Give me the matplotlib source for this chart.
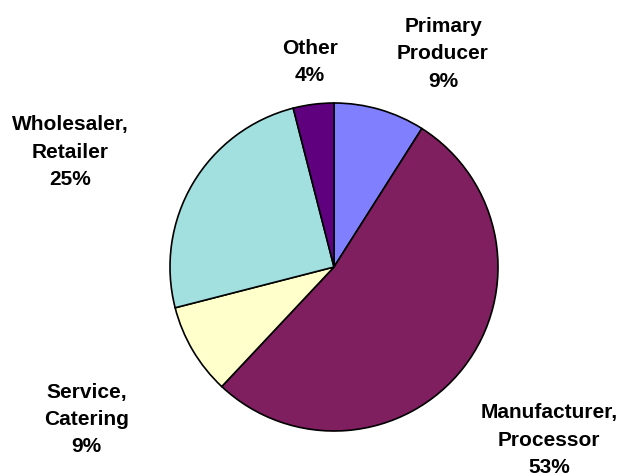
import matplotlib.pyplot as plt

# Business type breakdown
categories = ["Primary\nProducer", "Manufacturer,\nProcessor", "Service,\nCatering",
              "Wholesaler,\nRetailer", "Other"]
shares = [9, 53, 9, 25, 4]
colors = ["#8080FF", "#7F1F5F", "#FFFFCC", "#A2E0E0", "#5F007F"]

# label anchor points (pie radius = 1)
label_pos = [(0.665, 1.30), (1.31, -1.055), (-1.51, -0.93), (-1.61, 0.70), (-0.146, 1.25)]

W, H = 629, 476
cx, cy, r = 334, 267, 164

fig = plt.figure(figsize=(W / 100, H / 100), dpi=100)
ax = fig.add_axes([(cx - r) / W, 1 - (cy + r) / H, 2 * r / W, 2 * r / H])

ax.pie(shares, colors=colors, startangle=90, counterclock=False, radius=1,
       wedgeprops=dict(edgecolor="black", linewidth=1.2))
ax.set_xlim(-1, 1)
ax.set_ylim(-1, 1)
ax.set_aspect("auto")
ax.axis("off")

for name, val, (x, y) in zip(categories, shares, label_pos):
    ax.text(x, y, f"{name}\n{val}%", ha="center", va="center",
            fontsize=15, fontweight="bold", family="Liberation Sans",
            linespacing=1.55, clip_on=False)

fig.savefig("out.png", dpi=100)
